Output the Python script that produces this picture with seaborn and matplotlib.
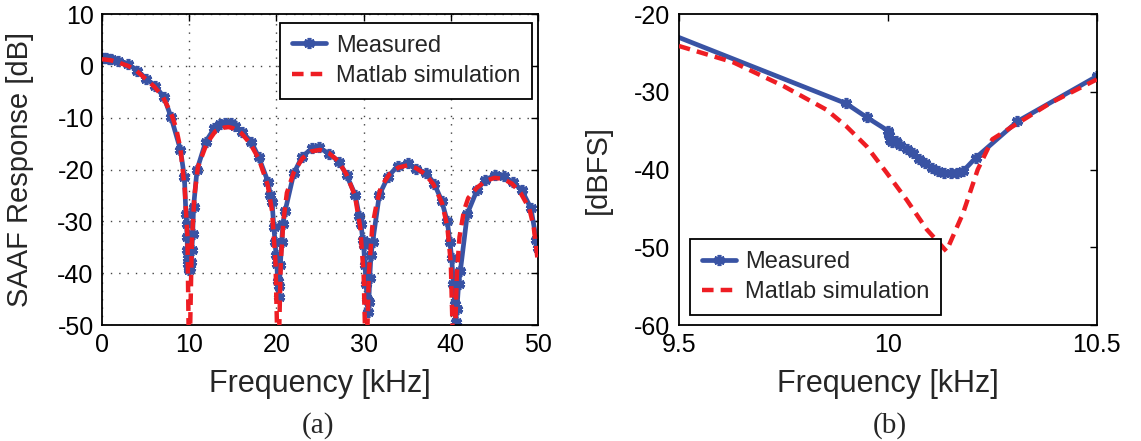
import matplotlib
matplotlib.use("Agg")
import matplotlib.pyplot as plt
import seaborn as sns
import numpy as np

# ---------------- data: panel (a) ----------------
meas_a_f = [0, 0.25, 0.5, 0.75, 1.0, 1.85, 3.0, 4.05, 5.1, 6.05, 7.1, 7.9, 9.0, 9.45,
            9.62, 9.7, 9.75, 9.8, 9.85, 9.9, 9.95, 10.0, 10.1, 10.2, 10.3, 10.4, 10.5,
            10.9, 11.9, 12.9, 13.5, 14.15, 14.8, 15.3, 16.05, 17.1, 17.95, 19.05, 19.3,
            19.5, 19.7, 19.85, 19.95, 20.05, 20.15, 20.25, 20.35, 20.45, 20.6, 20.75,
            21.0, 22.0, 22.95, 24.1, 24.85, 26.0, 27.2, 28.05, 29.05, 29.5, 29.7, 29.9,
            30.0, 30.15, 30.3, 30.4, 30.5, 30.6, 30.7, 30.85, 31.05, 31.8, 32.8, 33.9,
            35.1, 36.0, 37.2, 38.1, 38.95, 39.6, 39.9, 40.1, 40.3, 40.45, 40.55, 40.7,
            40.9, 41.1, 41.9, 43.0, 43.9, 45.1, 46.05, 47.1, 48.15, 49.2, 49.8, 50.0]
meas_a_db = [1.5, 1.5, 1.45, 1.4, 1.3, 0.95, 0.35, -0.9, -2.5, -3.8, -6.0, -9.8, -16.2, -21.5,
             -28.5, -30.5, -33.0, -35.5, -37.0, -38.3, -39.0, -39.4, -39.0, -37.8, -35.5, -32.5, -27.2,
             -20.0, -14.6, -12.0, -11.3, -11.0, -11.1, -11.5, -12.7, -14.6, -17.5, -22.4, -24.9,
             -26.2, -31.0, -34.0, -36.5, -38.2, -41.5, -44.5, -42.5, -38.5, -34.0, -30.5,
             -28.0, -20.7, -17.5, -15.9, -15.7, -16.9, -18.5, -21.1, -24.9, -29.0, -30.5, -33.5,
             -34.5, -38.5, -42.0, -45.0, -47.5, -45.5, -41.0, -36.5, -33.9, -24.9, -21.4, -19.3,
             -18.8, -19.8, -20.7, -22.7, -26.0, -30.0, -34.0, -37.0, -42.0, -46.0, -49.5, -47.0,
             -42.0, -39.5, -28.5, -24.0, -22.0, -21.1, -21.3, -22.4, -24.0, -27.5, -33.5, -35.2]

sim_a_f = [0, 1, 2, 3, 4, 5, 6, 7, 8, 8.5, 9, 9.5, 9.8, 10.0, 10.3, 10.6, 11, 12, 13, 14,
           14.5, 15, 16, 17, 18, 19, 19.5, 19.9, 20.2, 20.5, 20.8, 21.2, 22, 23, 24, 25,
           26, 27, 28, 29, 29.6, 30.0, 30.3, 30.6, 31, 31.5, 32, 33, 34, 35, 36, 37, 38,
           39, 39.6, 40.0, 40.35, 40.7, 41, 41.5, 42, 43, 44, 45, 46, 47, 48, 49, 49.5, 50]
sim_a_db = [1.3, 1.1, 0.6, 0.0, -1.0, -2.5, -4.0, -6.0, -9.5, -12.0, -16.0, -24.0, -33.0, -60.0,
            -34.0, -25.0, -19.5, -15.0, -12.6, -11.9, -11.8, -12.0, -13.0, -15.0, -18.0, -23.0,
            -28.0, -38.0, -60.0, -38.0, -30.0, -24.5, -20.5, -17.8, -16.5, -16.2, -16.8, -18.2,
            -20.8, -25.0, -31.0, -40.0, -60.0, -40.0, -31.0, -26.5, -23.3, -20.8, -19.6, -19.2,
            -19.7, -20.8, -22.8, -26.5, -31.0, -38.0, -60.0, -40.0, -33.0, -28.0, -25.5, -23.5,
            -22.2, -21.6, -21.8, -22.7, -24.5, -27.5, -31.0, -38.0]

# ---------------- data: panel (b) ----------------
meas_b_f = [9.5, 9.9, 9.95, 10.0, 10.003, 10.006, 10.01, 10.02, 10.03, 10.045, 10.06, 10.075,
            10.09, 10.105, 10.12, 10.135, 10.15, 10.165, 10.18, 10.21, 10.31, 10.5]
meas_b_db = [-23.0, -31.5, -33.3, -35.0, -35.6, -36.2, -36.5, -36.3, -36.9, -37.3, -37.9, -38.6,
             -39.2, -39.8, -40.2, -40.4, -40.5, -40.4, -40.2, -38.5, -33.8, -28.0]

sim_b_f = [9.5, 9.63, 9.75, 9.853, 9.9, 9.949, 9.997, 10.045, 10.093, 10.14, 10.18, 10.215,
           10.25, 10.3, 10.39, 10.5]
sim_b_db = [-24.1, -26.2, -29.25, -32.3, -34.4, -37.0, -40.4, -43.9, -47.7, -50.5, -45.6, -40.0,
            -36.1, -34.4, -31.4, -28.4]

a_xticks = [0, 10, 20, 30, 40, 50]
a_yticks = [10, 0, -10, -20, -30, -40, -50]
b_xticks = [9.5, 10, 10.5]
b_xticklabels = ["9.5", "10", "10.5"]
b_yticks = [-20, -30, -40, -50, -60]

labels = ["Measured", "Matlab simulation"]
panel_tags = ["(a)", "(b)"]

# ---------------- style ----------------
sns.set_style("white")
plt.rcParams["font.family"] = ["Liberation Sans", "DejaVu Sans"]
plt.rcParams["axes.unicode_minus"] = False

BLUE = "#3953A4"
RED = "#EE1D23"

fig = plt.figure(figsize=(11.41, 4.41), dpi=100)
ax1 = fig.add_axes([0.0894, 0.263, 0.3821, 0.705])
ax2 = fig.add_axes([0.595, 0.263, 0.3663, 0.705])

star = (6, 2, 0)

def draw(ax, mf, mdb, sf, sdb, markevery=None):
    sns.lineplot(x=mf, y=mdb, ax=ax, color=BLUE, lw=3.4, sort=False,
                 marker=star, markersize=8, markeredgewidth=2.6,
                 markeredgecolor=BLUE, markerfacecolor=BLUE,
                 label=labels[0], markevery=markevery, zorder=2)
    sns.lineplot(x=sf, y=sdb, ax=ax, color=RED, lw=3.2, sort=False,
                 dashes=False, label=labels[1], zorder=3)
    ax.lines[-1].set_linestyle((0, (2.6, 1.6)))

draw(ax1, meas_a_f, meas_a_db, sim_a_f, sim_a_db)
draw(ax2, meas_b_f, meas_b_db, sim_b_f, sim_b_db, markevery=list(range(1, len(meas_b_f))))

for ax in (ax1, ax2):
    for sp in ax.spines.values():
        sp.set_visible(True)
        sp.set_color("black")
        sp.set_linewidth(1.3)
    ax.tick_params(direction="in", length=5, width=1, top=True, right=True,
                   labelsize=18, colors="black", pad=6)

ax1.set_xlim(0, 50)
ax1.set_ylim(-50, 10)
ax1.set_xticks(a_xticks)
ax1.set_yticks(a_yticks)
ax1.grid(True, linestyle=(0, (1, 5)), color="#444444", lw=1.0)
ax1.set_xlabel("Frequency [kHz]", fontsize=22)
ax1.set_ylabel("SAAF Response [dB]", fontsize=21)
ax1.xaxis.set_label_coords(0.5, -0.14)
ax1.yaxis.set_label_coords(-0.155, 0.5)

ax2.set_xlim(9.5, 10.5)
ax2.set_ylim(-60, -20)
ax2.set_xticks(b_xticks)
ax2.set_xticklabels(b_xticklabels)
ax2.set_yticks(b_yticks)
ax2.grid(False)
ax2.set_xlabel("Frequency [kHz]", fontsize=22)
ax2.set_ylabel("[dBFS]", fontsize=21)
ax2.xaxis.set_label_coords(0.5, -0.14)
ax2.yaxis.set_label_coords(-0.16, 0.5)

leg_kw = dict(fontsize=17, frameon=True, fancybox=False, edgecolor="black",
              handlelength=1.45, borderpad=0.5, labelspacing=0.35, handletextpad=0.4,
              borderaxespad=0.0)
l1 = ax1.legend(loc="upper right", bbox_to_anchor=(0.986, 0.972), **leg_kw)
l2 = ax2.legend(loc="lower left", bbox_to_anchor=(0.026, 0.032), **leg_kw)
for lg in (l1, l2):
    lg.get_frame().set_linewidth(1.3)
    lg.get_frame().set_alpha(1)

fig.text(0.279, 0.035, panel_tags[0], fontsize=21, family=["Liberation Serif", "DejaVu Serif"],
         ha="center", va="center")
fig.text(0.780, 0.035, panel_tags[1], fontsize=21, family=["Liberation Serif", "DejaVu Serif"],
         ha="center", va="center")

fig.savefig("out.png", dpi=100)
